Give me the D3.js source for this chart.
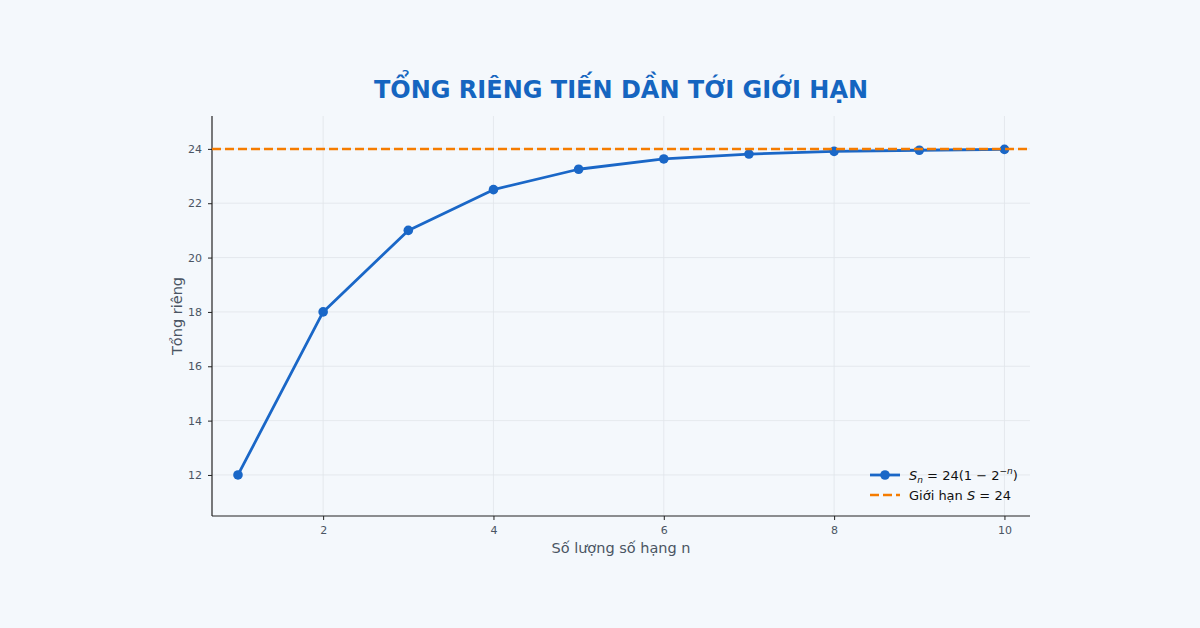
<!DOCTYPE html>
<html>
<head>
<meta charset="utf-8">
<script src="https://cdn.jsdelivr.net/npm/d3@7"></script>
<style>
  body { margin: 0; background: #f4f8fc; }
  svg { display: block; font-family: "DejaVu Sans", sans-serif; }
  .axis path, .axis line { stroke: #222; }
  .axis text { fill: #4a5563; font-size: 11px; font-family: "DejaVu Sans", sans-serif; }
  .grid line { stroke: #e1e5ea; stroke-width: 0.8; }
</style>
</head>
<body>
<div id="chart"></div>
<script>
;(function () {
    const W = 1200, H = 628;
    const margin = { top: 116, right: 170, bottom: 112, left: 212 };
    const width = W - margin.left - margin.right,
        height = H - margin.top - margin.bottom;

    // data
    const terms = [1, 2, 3, 4, 5, 6, 7, 8, 9, 10];
    const partialSums = [12, 18, 21, 22.5, 23.25, 23.63, 23.81, 23.91, 23.95, 23.98];
    const limit = 24;
    const xTicks = [2, 4, 6, 8, 10];
    const yTicks = [12, 14, 16, 18, 20, 22, 24];

    const svg = d3.select("#chart")
        .append("svg")
        .attr("width", W)
        .attr("height", H);

    svg.append("rect").attr("width", W).attr("height", H).attr("fill", "#f4f8fc");

    const g = svg.append("g")
        .attr("transform", "translate(" + margin.left + "," + margin.top + ")");

    const x = d3.scaleLinear().domain([0.695, 10.3]).range([0, width]);
    const y = d3.scaleLinear().domain([10.49, 25.21]).range([height, 0]);

    // grid
    g.append("g").attr("class", "grid")
        .selectAll("line.gx").data(xTicks).enter().append("line")
        .attr("x1", d => x(d)).attr("x2", d => x(d))
        .attr("y1", 0).attr("y2", height);
    g.append("g").attr("class", "grid")
        .selectAll("line.gy").data(yTicks).enter().append("line")
        .attr("x1", 0).attr("x2", width)
        .attr("y1", d => y(d)).attr("y2", d => y(d));

    // axes
    const xAxis = d3.axisBottom(x).tickValues(xTicks).tickSize(4).tickPadding(6);
    g.append("g").attr("class", "axis x-axis")
        .attr("transform", "translate(0," + height + ")")
        .call(xAxis)
        .call(a => a.select(".domain").attr("d", "M0,0H" + width));

    const yAxis = d3.axisLeft(y).tickValues(yTicks).tickSize(4).tickPadding(6);
    g.append("g").attr("class", "axis y-axis")
        .call(yAxis)
        .call(a => a.select(".domain").attr("d", "M0,0V" + height));

    g.selectAll(".axis .domain").attr("stroke-width", 1.2);

    // series line
    const line = d3.line().x((d, i) => x(terms[i])).y(d => y(d));
    g.append("path")
        .datum(partialSums)
        .attr("fill", "none")
        .attr("stroke", "#1a67c7")
        .attr("stroke-width", 2.8)
        .attr("stroke-linejoin", "round")
        .attr("d", line);

    g.selectAll("circle.pt").data(partialSums).enter().append("circle")
        .attr("class", "pt")
        .attr("cx", (d, i) => x(terms[i]))
        .attr("cy", d => y(d))
        .attr("r", 4.8)
        .attr("fill", "#1a67c7");

    // limit line
    g.append("line")
        .attr("x1", 0).attr("x2", width)
        .attr("y1", y(limit)).attr("y2", y(limit))
        .attr("stroke", "#f57c00")
        .attr("stroke-width", 2.5)
        .attr("stroke-dasharray", "9,4");

    // title & labels
    svg.append("text")
        .attr("x", 621).attr("y", 98)
        .attr("text-anchor", "middle")
        .attr("font-size", 24).attr("font-weight", "bold")
        .attr("fill", "#1565c0")
        .text("TỔNG RIÊNG TIẾN DẦN TỚI GIỚI HẠN");

    svg.append("text")
        .attr("x", 621).attr("y", 553)
        .attr("text-anchor", "middle")
        .attr("font-size", 14.5)
        .attr("fill", "#4a5563")
        .text("Số lượng số hạng n");

    svg.append("text")
        .attr("transform", "translate(182,316) rotate(-90)")
        .attr("text-anchor", "middle")
        .attr("font-size", 14.5)
        .attr("fill", "#4a5563")
        .text("Tổng riêng");

    // legend
    const lg = svg.append("g").attr("transform", "translate(870,0)");
    lg.append("line").attr("x1", 0).attr("x2", 30).attr("y1", 475).attr("y2", 475)
        .attr("stroke", "#1a67c7").attr("stroke-width", 2.8);
    lg.append("circle").attr("cx", 15).attr("cy", 475).attr("r", 4.8).attr("fill", "#1a67c7");
    const t1 = lg.append("text").attr("x", 39).attr("y", 480).attr("font-size", 13).attr("fill", "#111");
    t1.append("tspan").attr("font-style", "italic").text("S");
    t1.append("tspan").attr("font-style", "italic").attr("font-size", 9).attr("dy", 3).text("n");
    t1.append("tspan").attr("dy", -3).text(" = 24(1 − 2");
    t1.append("tspan").attr("font-size", 9).attr("dy", -6).text("−");
    t1.append("tspan").attr("font-size", 9).attr("font-style", "italic").text("n");
    t1.append("tspan").attr("dy", 6).text(")");

    lg.append("line").attr("x1", 0).attr("x2", 30).attr("y1", 495).attr("y2", 495)
        .attr("stroke", "#f57c00").attr("stroke-width", 2.5).attr("stroke-dasharray", "9,4");
    const t2 = lg.append("text").attr("x", 39).attr("y", 500).attr("font-size", 13).attr("fill", "#111");
    t2.append("tspan").text("Giới hạn ");
    t2.append("tspan").attr("font-style", "italic").text("S");
    t2.append("tspan").text(" = 24");
})()
</script>
</body>
</html>
